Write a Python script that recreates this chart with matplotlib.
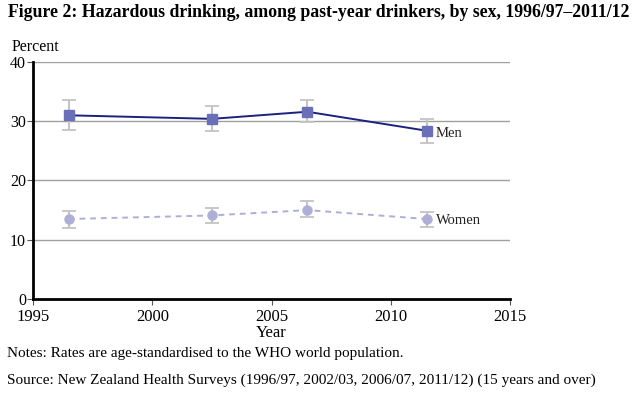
import matplotlib
matplotlib.use("Agg")
import matplotlib.pyplot as plt

plt.rcParams['font.family'] = ['Liberation Serif', 'DejaVu Serif']

# survey mid-years
years = [1996.5, 2002.5, 2006.5, 2011.5]

men = [31.0, 30.4, 31.6, 28.4]
men_lo = [28.5, 28.4, 29.9, 26.4]
men_hi = [33.6, 32.5, 33.5, 30.3]

women = [13.5, 14.1, 15.0, 13.5]
women_lo = [11.9, 12.8, 13.8, 12.1]
women_hi = [14.9, 15.4, 16.5, 14.7]

x_ticks = [1995, 2000, 2005, 2010, 2015]
y_ticks = [0, 10, 20, 30, 40]

fig = plt.figure(figsize=(6.4, 4.05), dpi=100)
ax = fig.add_axes([0.0516, 0.2617, 0.7453, 0.5853])

ax.set_xlim(1995, 2015)
ax.set_ylim(0, 40)
for yv in y_ticks[1:]:
    ax.axhline(yv, color='#a0a0a0', lw=1.0, zorder=1)

def draw_series(vals, lo, hi, line_col, mk_col, marker, ls, ms):
    err = [[v - l for v, l in zip(vals, lo)], [h - v for v, h in zip(vals, hi)]]
    ax.errorbar(years, vals, yerr=err, fmt='none', ecolor='#c4c4c4', elinewidth=1.5,
                capsize=5, capthick=1.3, zorder=2)
    ax.plot(years, vals, color=line_col, ls=ls, lw=1.4, zorder=3)
    ax.plot(years, vals, ls='none', marker=marker, ms=ms, color=mk_col, zorder=4)

draw_series(men, men_lo, men_hi, '#1c2180', '#6b6fb8', 's', '-', 6.5)
draw_series(women, women_lo, women_hi, '#aeaed8', '#aeaed8', 'o', (0, (3, 2.5)), 6.5)

ax.text(years[-1] + 0.4, men[-1] - 0.5, 'Men', fontsize=10.5, va='center', color='#222222')
ax.text(years[-1] + 0.4, women[-1] - 0.3, 'Women', fontsize=10.5, va='center', color='#222222')

ax.set_xticks(x_ticks)
ax.set_yticks(y_ticks)
ax.tick_params(axis='both', labelsize=12, color='#555555', length=4, width=0.8)
ax.tick_params(axis='x', pad=3)
ax.tick_params(axis='y', pad=1, labelsize=11.5)
for s in ['top', 'right']:
    ax.spines[s].set_visible(False)
ax.spines['left'].set_linewidth(2)
ax.spines['bottom'].set_linewidth(2)
ax.set_xlabel('Year', fontsize=12, labelpad=0)

fig.text(0.012, 0.97, 'Figure 2: Hazardous drinking, among past-year drinkers, by sex, 1996/97\u20132011/12',
         fontsize=12.8, fontweight='bold', va='center')
fig.text(0.018, 0.884, 'Percent', fontsize=11.5, va='center')
fig.text(0.011, 0.126, 'Notes: Rates are age-standardised to the WHO world population.', fontsize=11, va='center')
fig.text(0.011, 0.062, 'Source: New Zealand Health Surveys (1996/97, 2002/03, 2006/07, 2011/12) (15 years and over)',
         fontsize=11, va='center')

fig.savefig('out.png', dpi=100)
